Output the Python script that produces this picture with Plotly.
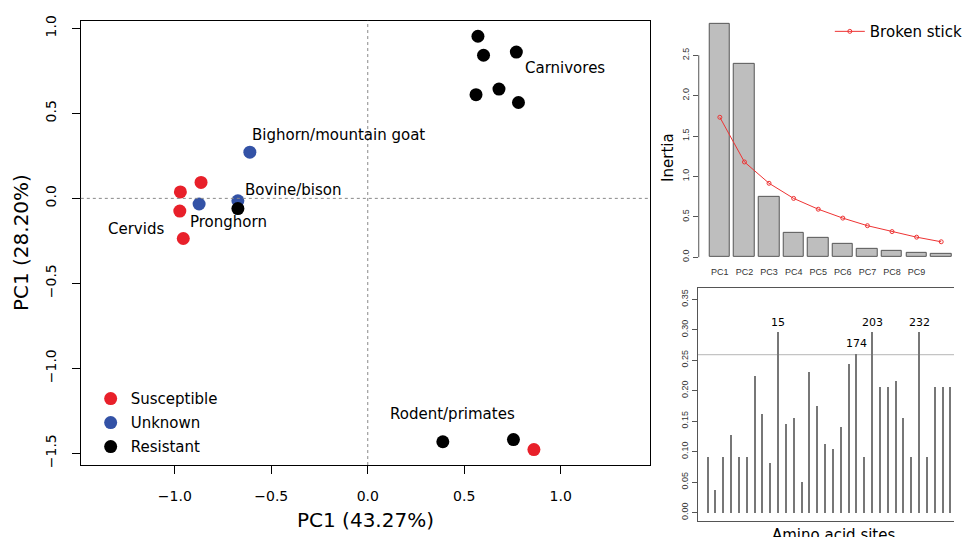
import plotly.graph_objects as go

# ---------------- data ----------------
susc_x = [-0.864, -0.971, -0.974, -0.956, 0.861]
susc_y = [0.094, 0.038, -0.075, -0.236, -1.478]
unk_x = [-0.611, -0.874, -0.673]
unk_y = [0.272, -0.033, -0.014]
res_x = [-0.673, 0.571, 0.600, 0.770, 0.680, 0.561, 0.781, 0.389, 0.755]
res_y = [-0.060, 0.954, 0.842, 0.861, 0.643, 0.610, 0.564, -1.432, -1.419]

group_labels = ["Bighorn/mountain goat", "Bovine/bison", "Pronghorn", "Cervids", "Carnivores", "Rodent/primates"]
group_label_x = [-0.612, -0.644, -0.930, -1.356, 0.804, 0.104]
group_label_y = [0.373, 0.048, -0.137, -0.182, 0.765, -1.268]

pcs = ["PC1", "PC2", "PC3", "PC4", "PC5", "PC6", "PC7", "PC8", "PC9", "PC10"]
inertia = [2.887, 2.399, 0.744, 0.305, 0.244, 0.167, 0.106, 0.073, 0.057, 0.045]
broken_stick = [1.732, 1.179, 0.915, 0.728, 0.594, 0.484, 0.390, 0.317, 0.248, 0.191]

site_index = list(range(1, 33))
site_contrib = [0.091, 0.038, 0.091, 0.128, 0.091, 0.091, 0.224, 0.162, 0.082, 0.296,
                0.146, 0.156, 0.051, 0.231, 0.176, 0.113, 0.104, 0.141, 0.244, 0.261,
                0.091, 0.296, 0.206, 0.206, 0.216, 0.156, 0.091, 0.296, 0.091, 0.206,
                0.206, 0.206]
site_names = {10: "15", 20: "174", 22: "203", 28: "232"}
threshold = 0.259

RED = "#E8202A"
BLUE = "#3352A6"
FONT = "DejaVu Sans"
SMALL = "Liberation Sans"

W, H = 968, 537
def px(x): return x / W
def py(y): return 1 - y / H

fig = go.Figure()

# ---------------- main PCA panel ----------------
for name, xs, ys, col in [("Susceptible", susc_x, susc_y, RED),
                          ("Unknown", unk_x, unk_y, BLUE),
                          ("Resistant", res_x, res_y, "black")]:
    fig.add_trace(go.Scatter(x=xs, y=ys, mode="markers", name=name,
                             marker=dict(size=13, color=col, line=dict(width=0)),
                             xaxis="x", yaxis="y", legend="legend", legendgroup=name))

for t, x, y in zip(group_labels, group_label_x, group_label_y):
    fig.add_annotation(x=x, y=y, xref="x", yref="y", text=t, showarrow=False,
                       xanchor="left", yanchor="middle",
                       font=dict(family=FONT, size=15, color="black"))

fig.add_shape(type="line", xref="x", yref="y domain", x0=0, x1=0, y0=0, y1=1,
              line=dict(color="#888888", width=1, dash="dot"))
fig.add_shape(type="line", xref="x domain", yref="y", x0=0, x1=1, y0=0, y1=0,
              line=dict(color="#888888", width=1, dash="dot"))

# ---------------- scree plot ----------------
fig.add_trace(go.Bar(x=pcs, y=inertia, xaxis="x2", yaxis="y2", showlegend=False,
                     width=0.83, marker=dict(color="#BEBEBE", line=dict(color="#555555", width=1))))
fig.add_trace(go.Scatter(x=pcs, y=broken_stick, xaxis="x2", yaxis="y2", mode="lines+markers",
                         name="Broken stick", legend="legend2",
                         line=dict(color="#EE3333", width=1),
                         marker=dict(symbol="circle-open", size=4, color="#EE3333", line=dict(width=1))))
fig.add_shape(type="line", xref="x2 domain", yref="y2", x0=0, x1=0, y0=0, y1=2.5,
              line=dict(color="#555555", width=1))

# ---------------- site contributions ----------------
fig.add_trace(go.Bar(x=site_index, y=site_contrib, xaxis="x3", yaxis="y3", showlegend=False,
                     width=0.18, marker=dict(color="#777777", line=dict(width=0))))
fig.add_shape(type="line", xref="x3 domain", yref="y3", x0=0, x1=1, y0=threshold, y1=threshold,
              line=dict(color="#C4C4C4", width=1.2), layer="below")
for i, lab in site_names.items():
    fig.add_annotation(x=i, y=site_contrib[i - 1], xref="x3", yref="y3", text=lab,
                       showarrow=False, yanchor="bottom", yshift=1,
                       font=dict(family=FONT, size=11, color="black"))

# ---------------- titles ----------------
fig.add_annotation(x=px(371), y=py(523), xref="paper", yref="paper", text="PC1 (43.27%)",
                   showarrow=False, xanchor="center", yanchor="middle",
                   font=dict(family=FONT, size=20, color="black"))
fig.add_annotation(x=px(22), y=py(241), xref="paper", yref="paper", text="PC1 (28.20%)",
                   showarrow=False, xanchor="center", yanchor="middle", textangle=-90,
                   font=dict(family=FONT, size=20, color="black"))
fig.add_annotation(x=px(677), y=py(155), xref="paper", yref="paper", text="Inertia",
                   showarrow=False, xanchor="center", yanchor="middle", textangle=-90,
                   font=dict(family=FONT, size=15, color="black"))
fig.add_annotation(x=px(846), y=py(527), xref="paper", yref="paper", text="Amino acid sites",
                   showarrow=False, xanchor="center", yanchor="top",
                   font=dict(family=FONT, size=15, color="black"))

main_tick = dict(family=FONT, size=14, color="black")
small_tick = dict(family=SMALL, size=9, color="#333333")

fig.update_layout(
    width=W, height=H, margin=dict(l=0, r=0, t=0, b=0),
    paper_bgcolor="white", plot_bgcolor="white",
    xaxis=dict(domain=[px(82), px(660)], range=[-1.487, 1.465],
               tickvals=[-1.0, -0.5, 0.0, 0.5, 1.0], ticktext=["−1.0", "−0.5", "0.0", "0.5", "1.0"],
               showgrid=False, zeroline=False, showline=True, mirror=True,
               linecolor="black", linewidth=1, ticks="outside", ticklen=8, tickcolor="black",
               tickfont=main_tick, ticklabelstandoff=10, anchor="y"),
    yaxis=dict(domain=[py(467), py(16)], range=[-1.569, 1.045],
               tickvals=[-1.5, -1.0, -0.5, 0.0, 0.5, 1.0],
               ticktext=["−1.5", "−1.0", "−0.5", "0.0", "0.5", "1.0"],
               showgrid=False, zeroline=False, showline=True, mirror=True,
               linecolor="black", linewidth=1, ticks="outside", ticklen=8, tickcolor="black",
               tickangle=-90, tickfont=main_tick, ticklabelstandoff=10, anchor="x"),
    xaxis2=dict(domain=[px(709), 1.0], range=[-0.858, 9.52], type="category",
                tickvals=pcs[:9], showgrid=False, zeroline=False, showline=False,
                ticks="", tickfont=small_tick, anchor="y2", ticklabelstandoff=2),
    yaxis2=dict(domain=[py(262), py(10)], range=[-0.073, 3.0],
                tickvals=[0.0, 0.5, 1.0, 1.5, 2.0, 2.5],
                ticktext=["0.0", "0.5", "1.0", "1.5", "2.0", "2.5"],
                showgrid=False, zeroline=False, showline=False,
                ticks="outside", ticklen=5, tickcolor="#555555",
                tickangle=-90, tickfont=small_tick, anchor="x2"),
    xaxis3=dict(domain=[px(708), 1.0], range=[-0.26, 32.47],
                showticklabels=False, ticks="", showgrid=False, zeroline=False,
                showline=True, mirror=True, linecolor="#555555", linewidth=1, anchor="y3"),
    yaxis3=dict(domain=[py(524), py(287)], range=[-0.0141, 0.3689],
                tickvals=[0.0, 0.05, 0.10, 0.15, 0.20, 0.25, 0.30, 0.35],
                ticktext=["0.00", "0.05", "0.10", "0.15", "0.20", "0.25", "0.30", "0.35"],
                showgrid=False, zeroline=False, showline=True, mirror=False,
                linecolor="#555555", linewidth=1,
                ticks="outside", ticklen=5, tickcolor="#555555",
                tickangle=-90, tickfont=small_tick, anchor="x3"),
    legend=dict(x=px(92), y=py(383), xanchor="left", yanchor="top",
                bgcolor="rgba(0,0,0,0)", font=dict(family=FONT, size=15, color="black"),
                tracegroupgap=1.5, itemsizing="trace"),
    legend2=dict(x=px(842), y=py(27), xanchor="left", yanchor="middle",
                 bgcolor="rgba(0,0,0,0)", font=dict(family=FONT, size=15, color="black")),
    bargap=0,
)

fig.write_html("out.html", config={"displayModeBar": False},
               post_script="document.body.style.margin='0';document.body.style.overflow='hidden';")
